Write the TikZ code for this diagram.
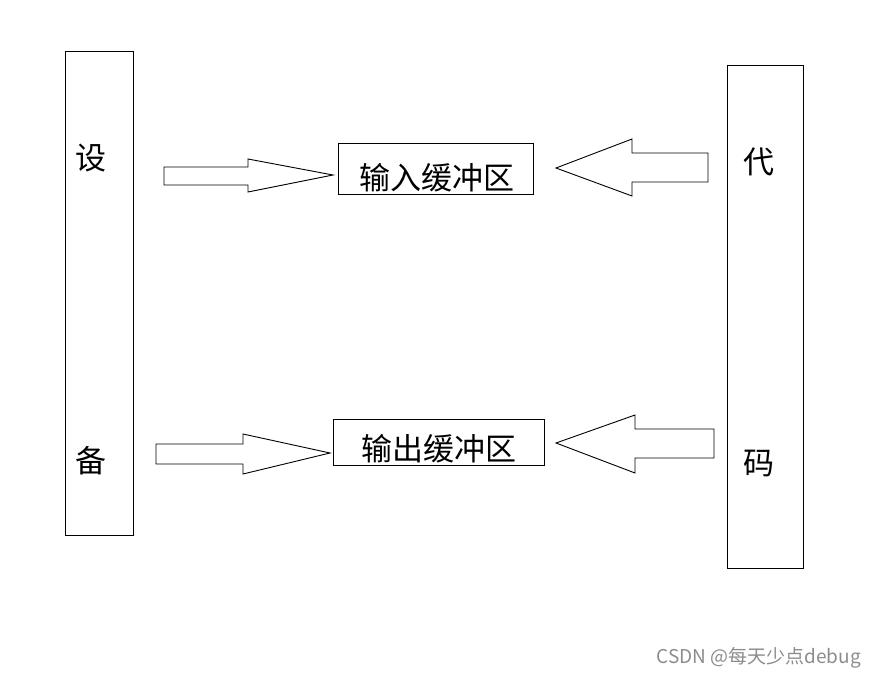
\documentclass[tikz,border=0pt]{standalone}
\usepackage{fontspec}
\setmainfont{Liberation Sans}
\newfontfamily\cjk{Noto Sans CJK SC}
\usetikzlibrary{positioning}

\tikzset{
  bar/.style={draw=black, line width=0.9pt},
  buf/.style={draw=black, line width=0.9pt, inner sep=0pt},
  word/.style={font=\cjk\fontsize{31}{33}\selectfont, inner sep=0pt},
  blockarrow/.style={draw=black, line width=0.9pt, fill=white},
}

\begin{document}
\begin{tikzpicture}[x=1pt, y=-1pt]
            \useasboundingbox (0,0) rectangle (876,678);
            % tall boxes
            \draw [bar] (65,51) rectangle (133,535);
            \draw [bar] (727,65) rectangle (803,568);
            \node[word] (she) at (91,158) {设};
            \node[word] (bei) at (91,461) {备};
            \node[word] (dai) at (759,162) {代};
            \node[word] (ma) at (759,463) {码};
            % buffers
            \draw [buf] (338,143) rectangle (533,194);
            \node[word] (inbuf) at (437,178) {输入缓冲区};
            \draw [buf] (333,419) rectangle (544,465);
            \node[word] (outbuf) at (439,449) {输出缓冲区};
            % block arrows
            \draw [blockarrow] (164,167) -- (248,167) -- (248,159) -- (333,175)
                -- (248,192) -- (248,185) -- (164,185) -- cycle;
            \draw [blockarrow] (708,153) -- (632,153) -- (632,139) -- (556,168)
                -- (632,196) -- (632,182) -- (708,182) -- cycle;
            \draw [blockarrow] (156,444) -- (243,444) -- (243,434) -- (330,453)
                -- (243,474) -- (243,464) -- (156,464) -- cycle;
            \draw [blockarrow] (714,429) -- (635,429) -- (635,415) -- (556,443)
                -- (635,473) -- (635,458) -- (714,458) -- cycle;
            % watermark
            \node[text=black!45, font=\cjk\fontsize{19}{21}\selectfont, anchor=east, inner sep=0pt]
                (mark) at (861,658) {CSDN @每天少点debug};
        \end{tikzpicture}
\end{document}
